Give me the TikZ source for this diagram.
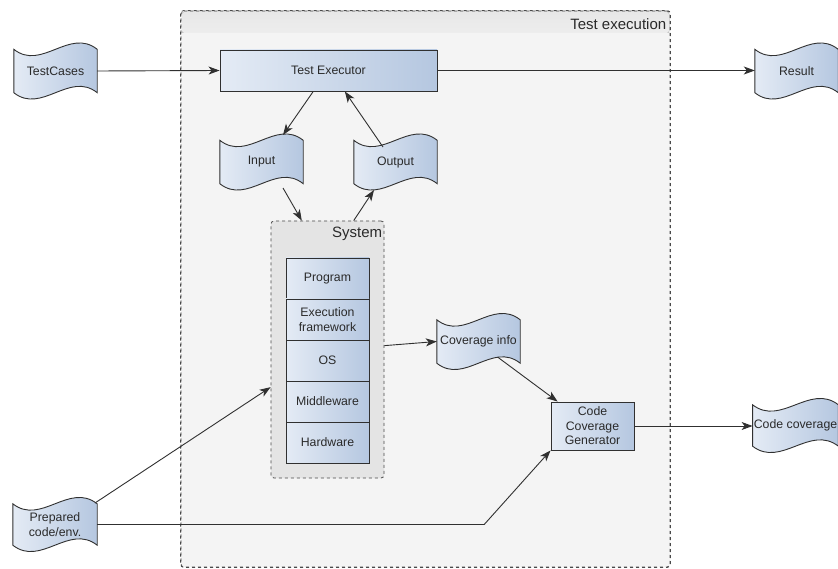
\documentclass[tikz,border=0pt]{standalone}
\usepackage{fontspec}
\setmainfont{Liberation Sans}
\usetikzlibrary{arrows.meta,calc}
\pgfdeclarelayer{back}
\pgfdeclarelayer{mid}
\pgfsetlayers{back,mid,main}
\definecolor{bordc}{HTML}{303030}
\definecolor{txtc}{HTML}{2A2A2A}
\definecolor{blueL}{HTML}{E4EBF5}
\definecolor{blueR}{HTML}{B5C7E0}
\definecolor{execfill}{HTML}{F4F4F4}
\definecolor{execband}{HTML}{E8E8E8}
\definecolor{sysfill}{HTML}{E4E4E4}
\definecolor{dashc}{HTML}{4A4A4A}
\tikzset{
  txtbase/.style={text=txtc, font=\fontsize{12.3}{14.5}\selectfont, align=center, inner sep=1pt},
  rectbox/.style={txtbase, rectangle, draw=bordc, line width=0.9pt, left color=blueL, right color=blueR},
  tapebox/.style={txtbase, rectangle, minimum width=83, minimum height=43},
  tapefill/.style={draw=bordc, line width=0.9pt, left color=blueL, right color=blueR},
  cellbox/.style={rectbox, minimum width=83, minimum height=41},
  contbox/.style={draw=dashc, dashed, line width=0.8pt, rounded corners=3, inner sep=0pt},
  arr/.style={draw=bordc, line width=0.9pt, -{Stealth[length=11pt,width=8pt,inset=3pt]}},
  headtxt/.style={text=txtc, font=\fontsize{15}{18}\selectfont, inner sep=1pt},
}
\newcommand\tapeoutline[1]{%
  \path[tapefill] (#1.north west)
    .. controls ($(#1.north west)!0.333!(#1.north east)+(0,22)$) and ($(#1.north west)!0.667!(#1.north east)+(0,-22)$) .. (#1.north east)
    -- (#1.south east)
    .. controls ($(#1.south west)!0.667!(#1.south east)+(0,-22)$) and ($(#1.south west)!0.333!(#1.south east)+(0,22)$) .. (#1.south west)
    -- cycle;}
\begin{document}
\begin{tikzpicture}[x=1pt,y=-1pt]
\useasboundingbox (0,0) rectangle (838,569);
% containers
\begin{pgfonlayer}{back}
\node[contbox, fill=execfill, minimum width=489, minimum height=556] (exec) at (425.5,289) {};
\fill[top color=execband, bottom color=execband!60!execfill, rounded corners=2] (182,12) rectangle (669,33);
\draw[dashc, dashed, line width=0.8pt, rounded corners=3] (exec.north west) rectangle (exec.south east);
\node[contbox, fill=sysfill, minimum width=113, minimum height=257] (sys) at (327.5,349.5) {};
\end{pgfonlayer}
\node[headtxt, anchor=north east] (exechead) at ($(exec.north east)+(-3,7)$) {Test execution};
\node[headtxt, anchor=north east] (syshead) at ($(sys.north east)+(-1,5)$) {System};
% stack
\node[cellbox] (prog) at (327.5,278.5) {Program};
\node[cellbox] (fw) at (327.5,319.5) {Execution\\framework};
\node[cellbox] (os) at (327.5,360.5) {OS};
\node[cellbox] (mw) at (327.5,401.5) {Middleware};
\node[cellbox] (hw) at (327.5,442.5) {Hardware};
% boxes
\node[rectbox, minimum width=217, minimum height=41] (te) at (328.5,70.5) {Test Executor};
\node[rectbox, minimum width=83, minimum height=48] (ccg) at (592.5,426) {Code\\Coverage\\Generator};
% tapes
\node[tapebox] (tc) at (55.5,71) {TestCases};
\node[tapebox] (res) at (796.5,71) {Result};
\node[tapebox] (inp) at (261.5,162) {Input};
\node[tapebox] (out) at (395.5,162) {Output};
\node[tapebox] (cov) at (478.5,341.5) {Coverage info};
\node[tapebox, minimum width=85, minimum height=41] (ccov) at (795.5,425.5) {Code coverage};
\node[tapebox, minimum width=84, minimum height=41] (prep) at (55,524.5) {Prepared\\code/env.};
\begin{pgfonlayer}{mid}
\foreach \t in {tc,res,inp,out,cov,ccov,prep} {\tapeoutline{\t}}
\end{pgfonlayer}
% connectors
\draw[arr] (tc.east) -- (te.west);
\draw[arr] (te.east) -- (te.east -| res.west);
\draw[arr] ($(te.south west)!0.43!(te.south east)$) -- ($(inp.center)+(21.5,-27)$);
\draw[arr] ($(out.center)+(-12.5,-15)$) -- ($(te.south west)!0.575!(te.south east)$);
\draw[arr] ($(inp.center)+(21.5,26)$) -- ($(sys.north west)!0.274!(sys.north east)$);
\draw[arr] ($(sys.north west)!0.73!(sys.north east)$) -- ($(out.center)+(-21.5,28)$);
\draw[arr] ($(sys.north east)!0.485!(sys.south east)$) -- (cov.west);
\draw[arr] ($(cov.center)+(19,15.5)$) -- ($(ccg.north west)!0.084!(ccg.north east)$);
\draw[arr] (ccg.east) -- (ccg.east -| ccov.west);
\draw[arr] ($(prep.center)+(40,-21.5)$) -- ($(sys.north west)!0.646!(sys.south west)$);
\draw[arr] (prep.east) -- ++(387,0) -- (ccg.south west);
\end{tikzpicture}
\end{document}
